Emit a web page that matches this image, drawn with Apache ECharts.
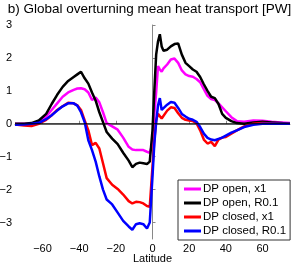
<!DOCTYPE html>
<html>
<head>
<meta charset="utf-8">
<script src="https://cdn.jsdelivr.net/npm/echarts@6/dist/echarts.min.js"></script>
<style>html,body{margin:0;padding:0;background:#fff}#c{width:299px;height:267px}</style>
</head>
<body>
<div id="c"></div>
<script>
var latitude = [-75,-70,-66,-62,-58,-55,-52,-49,-46,-43,-41,-39,-37,-35,-33,-31,-29,-27,-25,-22,-19,-16,-13,-11,-9,-7,-5,-3,-1.5,0,1,2,3,4,5,6,8,10,12,14,16,18,20,22,24,26,28,30,32,34,36,38,40,43,46,50,55,60,65,70,75];
var openX1 = [0,0,0.01,0.06,0.22,0.42,0.62,0.82,0.95,1.03,1.07,1.08,1.05,0.95,0.72,0.8,0.65,0.35,0.02,-0.08,-0.18,-0.42,-0.7,-0.78,-0.8,-0.8,-0.8,-0.85,-0.88,-0.6,0.3,0.95,1.75,1.65,1.58,1.68,1.8,1.95,1.98,1.85,1.62,1.5,1.45,1.43,1.36,1.26,1.05,0.85,0.75,0.72,0.62,0.5,0.38,0.2,0.08,0.06,0.1,0.09,0.06,0.04,0.02];
var openR01 = [0,0,0.02,0.1,0.3,0.6,0.88,1.12,1.3,1.42,1.5,1.58,1.38,1.22,0.95,0.7,0.35,0.05,-0.25,-0.45,-0.62,-0.88,-1.12,-1.32,-1.22,-1.18,-1.2,-1.22,-1.15,-0.2,1.0,2.1,2.5,2.72,2.35,2.22,2.25,2.35,2.42,2.44,2.1,1.85,1.75,1.65,1.58,1.42,1.2,1.0,0.82,0.78,0.6,0.3,0.18,0.08,0.02,0.0,0.04,0.06,0.04,0.02,0];
var closedX1 = [-0.02,-0.05,-0.07,0,0.12,0.26,0.42,0.53,0.64,0.62,0.56,0.42,0.1,-0.2,-0.65,-0.58,-0.75,-1.2,-1.65,-1.85,-1.98,-2.15,-2.35,-2.42,-2.37,-2.38,-2.42,-2.5,-2.52,-1.3,-0.5,0.1,0.3,0.25,0.16,0.22,0.4,0.5,0.48,0.32,0.18,0.12,0.1,0.08,0.02,-0.2,-0.48,-0.6,-0.55,-0.68,-0.48,-0.42,-0.4,-0.3,-0.2,-0.08,0,0.02,0.01,0,0];
var closedR01 = [-0.03,-0.02,0,0.03,0.14,0.26,0.4,0.53,0.62,0.62,0.55,0.35,0.05,-0.5,-0.8,-1.15,-1.6,-2.0,-2.3,-2.45,-2.7,-2.95,-3.12,-3.22,-3.05,-3.02,-3.05,-3.18,-3.0,-1.6,-0.6,0.05,0.55,0.78,0.42,0.45,0.58,0.66,0.64,0.48,0.3,0.22,0.15,0.12,0.06,-0.1,-0.3,-0.43,-0.48,-0.5,-0.46,-0.42,-0.36,-0.27,-0.2,-0.1,-0.03,0,0,0,0];
var xTicks = [-60,-40,-20,0,20,40,60];
var yTicks = [-3,-2,-1,0,1,2,3];
var seriesNames = ['DP open, x1','DP open, R0.1','DP closed, x1','DP closed, R0.1'];
var seriesColors = ['#ff00ff','#000000','#ff0000','#0000ff'];
var seriesValues = [openX1, openR01, closedX1, closedR01];

function pairs(v){ return latitude.map(function(x,i){ return [x, v[i]]; }); }
function fmt(v){ return String(v).replace('-', '\u2212'); }

var FONT = '"Liberation Sans", Arial, sans-serif';
var series = seriesNames.map(function(n,i){
  return {name:n, type:'line', data:pairs(seriesValues[i]), symbol:'none', smooth:false,
    lineStyle:{color:seriesColors[i], width:2.5}, itemStyle:{color:seriesColors[i]}, z:3+i};
});
series.unshift({name:'zero', type:'line', data:[[-75,0],[75,0]], symbol:'none', lineStyle:{color:'#000', width:1}, z:10, silent:true});

var chart = echarts.init(document.getElementById('c'), null, {renderer:'canvas'});
chart.setOption({
  animation:false,
  backgroundColor:'#fff',
  title:{text:'b) Global overturning mean heat transport [PW]', left:'center', top:2, padding:0,
    textStyle:{fontFamily:FONT, fontSize:13.5, fontWeight:'normal', color:'#000'}},
  grid:{left:15, right:9, top:25, bottom:28, containLabel:false, outerBoundsMode:'none'},
  legend:{data:seriesNames, orient:'vertical', left:178, top:180, width:110,
    icon:'rect', itemWidth:17, itemHeight:3, itemGap:2, padding:[3,4,3,6],
    borderColor:'#333', borderWidth:1, backgroundColor:'#fff',
    textStyle:{fontFamily:FONT, fontSize:11.5, lineHeight:12, color:'#000', padding:[0,0,0,-3]}},
  xAxis:{type:'value', min:-75, max:75, name:'Latitude', nameLocation:'middle', nameGap:14, nameMoveOverlap:false,
    nameTextStyle:{fontFamily:FONT, fontSize:11, color:'#000', verticalAlign:'top'},
    axisLine:{lineStyle:{color:'#888'}}, splitLine:{show:false},
    axisTick:{inside:true, length:3, lineStyle:{color:'#888'}, customValues:xTicks},
    axisLabel:{customValues:xTicks, formatter:fmt, fontFamily:FONT, fontSize:11, color:'#000', margin:4}},
  yAxis:{type:'value', min:-3.5, max:3,
    axisLine:{show:true, lineStyle:{color:'#888'}}, splitLine:{show:false},
    axisTick:{show:true, inside:true, length:3, lineStyle:{color:'#888'}, customValues:yTicks},
    axisLabel:{customValues:yTicks, formatter:fmt, fontFamily:FONT, fontSize:11, color:'#000', margin:3}},
  series:series
});
</script>
</body>
</html>
